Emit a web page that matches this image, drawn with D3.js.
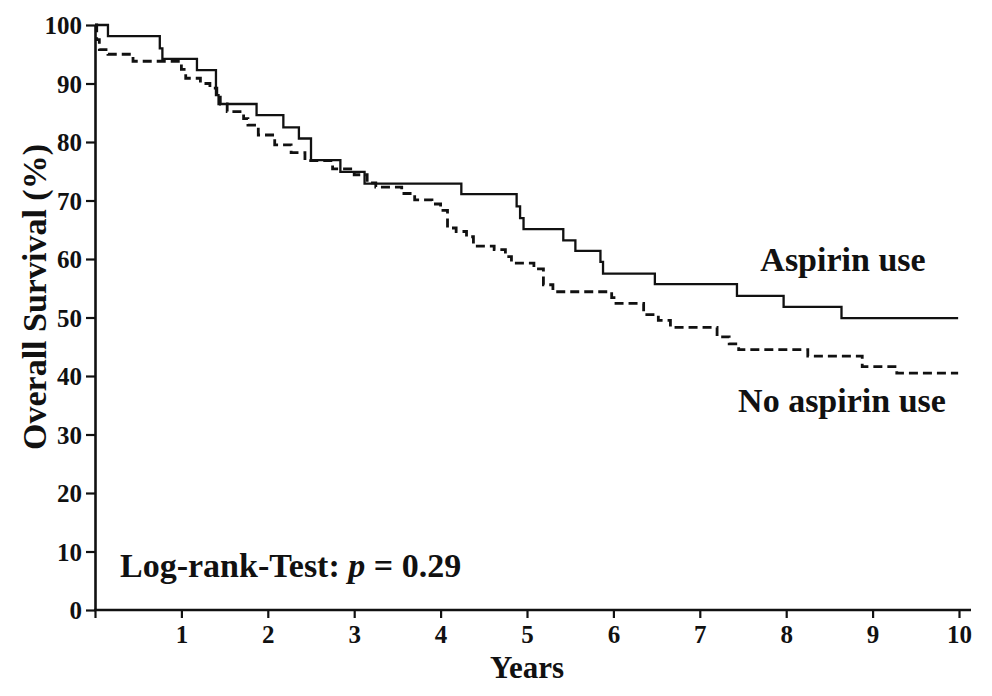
<!DOCTYPE html>
<html>
<head>
<meta charset="utf-8">
<script src="https://cdn.jsdelivr.net/npm/d3@7/dist/d3.min.js"></script>
<style>
  html, body { margin: 0; padding: 0; background: #fff; }
  svg { display: block; }
  text { font-family: "Liberation Serif", "Times New Roman", serif; font-weight: bold; fill: #111; }
</style>
</head>
<body>
<svg id="chart" width="992" height="696"></svg>
<script>
// ---- data ----
const xTicks = [1, 2, 3, 4, 5, 6, 7, 8, 9, 10];
const yTicks = [0, 10, 20, 30, 40, 50, 60, 70, 80, 90, 100];

// Aspirin use: step times (years) and survival (%) after each step
const aspirinTimes = [0, 0.15, 0.75, 0.78, 1.18, 1.40, 1.43, 1.87, 2.18, 2.36, 2.50, 2.84, 3.12, 4.24, 4.88, 4.92, 4.96, 5.42, 5.56, 5.85, 5.88, 6.48, 7.43, 7.97, 8.64, 9.99];
const aspirinSurv  = [100, 98.1, 96.0, 94.2, 92.3, 88.0, 86.5, 84.6, 82.5, 80.6, 76.9, 74.9, 72.9, 71.1, 69.0, 67.0, 65.1, 63.2, 61.4, 59.5, 57.5, 55.7, 53.7, 51.8, 49.9, 49.9];

// No aspirin use
const noAspirinTimes = [0, 0.02, 0.05, 0.15, 0.44, 1.00, 1.05, 1.22, 1.33, 1.41, 1.45, 1.53, 1.72, 1.77, 1.89, 2.08, 2.27, 2.43, 2.75, 3.00, 3.15, 3.25, 3.55, 3.70, 3.90, 4.00, 4.08, 4.18, 4.30, 4.38, 4.62, 4.75, 4.82, 5.08, 5.19, 5.30, 5.98, 6.03, 6.35, 6.52, 6.66, 7.20, 7.34, 7.45, 8.25, 8.88, 9.28, 9.99];
const noAspirinSurv  = [100, 97.5, 95.8, 95.0, 93.8, 92.4, 90.9, 90.0, 89.2, 88.0, 86.5, 85.2, 84.0, 82.9, 81.2, 79.5, 78.2, 76.8, 75.4, 74.4, 73.0, 72.3, 71.2, 70.1, 69.4, 68.3, 65.3, 64.7, 63.8, 62.2, 61.6, 60.4, 59.3, 58.3, 55.6, 54.4, 53.4, 52.4, 50.5, 49.5, 48.3, 46.7, 45.5, 44.5, 43.4, 41.6, 40.5, 40.5];

const seriesLabels = ["Aspirin use", "No aspirin use"];
const xTitle = "Years";
const yTitle = "Overall Survival (%)";

// ---- layout ----
const svg = d3.select("#chart");
const x = d3.scaleLinear().domain([0, 10]).range([95, 959]);
const y = d3.scaleLinear().domain([0, 100]).range([610, 25]);

const line = d3.line()
  .x(d => x(d[0]))
  .y(d => y(d[1]))
  .curve(d3.curveStepAfter);

const aspirinData = aspirinTimes.map((t, i) => [t, aspirinSurv[i]]);
const noAspirinData = noAspirinTimes.map((t, i) => [t, noAspirinSurv[i]]);

// curves
svg.append("path")
  .attr("d", line(noAspirinData))
  .attr("fill", "none")
  .attr("stroke", "#111")
  .attr("stroke-width", 2.8)
  .attr("stroke-dasharray", "9,5");

svg.append("path")
  .attr("d", line(aspirinData))
  .attr("fill", "none")
  .attr("stroke", "#111")
  .attr("stroke-width", 2.3);

// y axis
const yAxis = svg.append("g")
  .attr("transform", `translate(${x(0)},0)`)
  .call(d3.axisLeft(y).tickValues(yTicks).tickSize(9).tickPadding(4).tickSizeOuter(0));
yAxis.select(".domain").attr("stroke", "#111").attr("stroke-width", 2.6);
yAxis.selectAll(".tick line").attr("stroke", "#111").attr("stroke-width", 2.2);
yAxis.selectAll(".tick text")
  .attr("font-size", 25).attr("font-family", null).attr("fill", "#111")
  .attr("dy", "0.34em");

// x axis
const xAxis = svg.append("g")
  .attr("transform", `translate(0,${y(0)})`)
  .call(d3.axisBottom(x).tickValues([0].concat(xTicks)).tickSize(8).tickPadding(7).tickSizeOuter(0)
    .tickFormat(d => d === 0 ? "" : d));
xAxis.select(".domain").remove();
xAxis.append("line")
  .attr("x1", x(0) - 1).attr("x2", x(10) + 12)
  .attr("y1", 0).attr("y2", 0)
  .attr("stroke", "#111").attr("stroke-width", 2.6);
xAxis.selectAll(".tick line").attr("stroke", "#111").attr("stroke-width", 2.2);
xAxis.selectAll(".tick text")
  .attr("font-size", 25).attr("font-family", null).attr("fill", "#111");

// axis titles
svg.append("text")
  .attr("x", (x(0) + x(10)) / 2)
  .attr("y", 678)
  .attr("text-anchor", "middle")
  .attr("font-size", 31)
  .text(xTitle);

svg.append("text")
  .attr("transform", `translate(46,${297}) rotate(-90)`)
  .attr("text-anchor", "middle")
  .attr("font-size", 34)
  .text(yTitle);

// series labels
svg.append("text")
  .attr("x", 843).attr("y", 271)
  .attr("text-anchor", "middle")
  .attr("font-size", 34)
  .text(seriesLabels[0]);

svg.append("text")
  .attr("x", 842).attr("y", 412)
  .attr("text-anchor", "middle")
  .attr("font-size", 34)
  .text(seriesLabels[1]);

// log-rank annotation
const ann = svg.append("text")
  .attr("x", 120).attr("y", 577)
  .attr("font-size", 34);
ann.append("tspan").text("Log-rank-Test: ");
ann.append("tspan").attr("font-style", "italic").text("p");
ann.append("tspan").text(" = 0.29");
</script>
</body>
</html>
